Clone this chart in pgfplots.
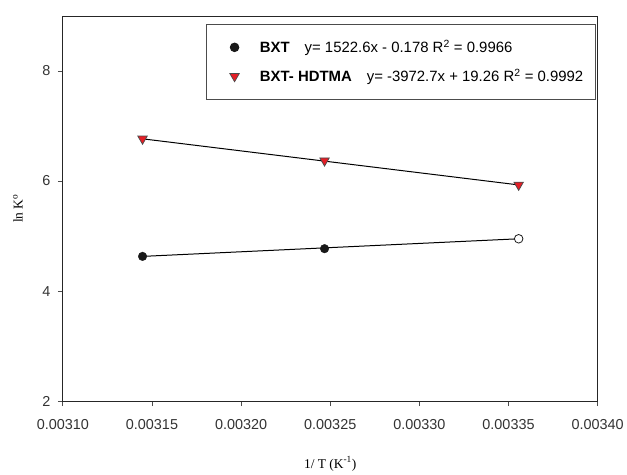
\documentclass[border=0pt]{standalone}
\usepackage{fontspec}
\setmainfont{Liberation Sans}
\newfontfamily\seriffont{Liberation Serif}
\usepackage{pgfplots}
\pgfplotsset{compat=1.18}
\usetikzlibrary{calc}
\definecolor{tri}{RGB}{228,30,38}
\pgfplotsset{mylegimg/.style={legend image code/.code={\path (0bp,0bp) (41bp,0bp); \draw[##1] plot coordinates {(20bp,0bp)};}}}
\begin{document}
\begin{tikzpicture}
\begin{axis}[
  scale only axis, width=536bp, height=386bp,
  xmin=0.00310, xmax=0.00340, ymin=2, ymax=9,
  xtick={0.0031,0.00315,0.0032,0.00325,0.0033,0.00335,0.0034},
  xticklabels={0.00310,0.00315,0.00320,0.00325,0.00330,0.00335,0.00340},
  scaled x ticks=false,
  ytick={2,4,6,8},
  tick align=outside, tick pos=left, major tick length=5bp,
  tick style={black!70, line width=0.8bp},
  ticklabel style={font=\fontsize{14.5}{17}\selectfont, text=black!80},
  xticklabel style={yshift=-10bp},
  yticklabel style={xshift=-4bp},
  /pgf/number format/assume math mode=true,
  axis line style={black!85, line width=0.9bp},
  xlabel={\seriffont 1/ T (K\textsuperscript{-1})},
  ylabel={\seriffont ln K\textsuperscript{o}},
  label style={font=\fontsize{13.5}{16}\selectfont},
  xlabel style={at={(axis description cs:0.5,-0.163)}, anchor=center},
  ylabel style={at={(axis description cs:-0.084,0.5)}, anchor=center},
  legend style={at={(axis description cs:0.9963,0.9793)}, anchor=north east,
    draw=black!70, line width=0.9bp, fill=white,
    font=\fontsize{15}{17}\selectfont,
    inner xsep=8bp, inner ysep=12bp, row sep=7bp,
    nodes={inner sep=4bp},
    cells={anchor=west}},
]
% regression lines
\addplot[black, line width=1bp, forget plot] coordinates {(0.0031447,4.63) (0.0033557,4.95)};
\addplot[black, line width=1bp, forget plot] coordinates {(0.0031447,6.767) (0.0033557,5.929)};
% BXT data
\addplot[only marks, mark=*, mark size=4.3bp, mark options={fill=black!90, draw=black!90}, mylegimg]
  coordinates {(0.0031447,4.63) (0.0032468,4.77)};
\addlegendentry{\textbf{BXT}\hspace{1em}y= 1522.6x - 0.178 R\textsuperscript{2} = 0.9966}
\addplot[only marks, mark=triangle*, mark size=5.5bp, mark options={rotate=180, fill=tri, draw=black!70, line width=0.7bp}, mylegimg]
  coordinates {(0.0031447,6.767) (0.0032468,6.37) (0.0033557,5.929)};
\addlegendentry{\textbf{BXT- HDTMA}\hspace{1em}y= -3972.7x + 19.26 R\textsuperscript{2} = 0.9992}
\addplot[only marks, mark=*, mark size=4.3bp, forget plot, mark options={fill=white, draw=black!90, line width=0.8bp}] coordinates {(0.0033557,4.95)};
\end{axis}
\useasboundingbox ($(current axis.south west)+(-63bp,-69bp)$) rectangle ($(current axis.north east)+(28bp,16bp)$);
\end{tikzpicture}
\end{document}
